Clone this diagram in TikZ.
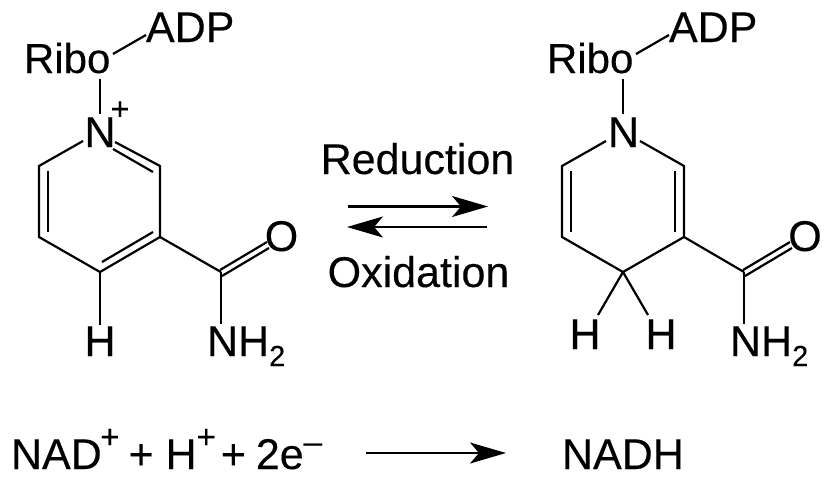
\documentclass[tikz,border=0pt]{standalone}
\usepackage{fontspec}
\setmainfont[FakeBold=0.25]{Liberation Sans}
\usetikzlibrary{arrows.meta}
\tikzset{
  atom/.style={inner sep=0pt,outer sep=0pt,font=\fontsize{43}{43}\selectfont,text height=30.5pt,text depth=0pt,anchor=base},
  word/.style={atom,anchor=base west},
  sup/.style={inner sep=0pt,outer sep=0pt,font=\fontsize{32}{32}\selectfont},
  bond/.style={line width=2.2pt,line cap=butt,line join=miter},
  rxn/.style={line width=2.2pt,-{Stealth[length=36pt,width=21pt,inset=9pt]}},
  ribo/.style={word,font=\fontsize{42}{43}\selectfont}
}
\newcommand{\subtwo}{\raisebox{-10pt}{\fontsize{29}{29}\selectfont 2}}
\newcommand{\supplus}{\raisebox{21pt}{\fontsize{33}{33}\selectfont +}}
\newcommand{\supminus}{\raisebox{16pt}{\fontsize{33}{33}\selectfont –}}
\begin{document}
\begin{tikzpicture}[x=1pt,y=-1pt]
\useasboundingbox (0,0) rectangle (826,479);
% left molecule
\node[ribo] (lribo) at (24,73) {Ribo};
\node[word] (ladp) at (146,42) {ADP};
\node[atom] (ln) at (100,147) {N};
\node[sup] (lplus) at (120,110.5) {+};
\node[atom] (lo) at (281.5,251) {O};
\node[atom] (lh) at (100,356) {H};
\node[word] (lnh) at (207,356) {NH\subtwo};
\coordinate (la) at (160,166);
\coordinate (lb) at (160,237);
\coordinate (lc) at (100,272);
\coordinate (ld) at (39,237);
\coordinate (le) at (39,166);
\coordinate (lk) at (221,272);
\coordinate (lr) at (113,54);
\coordinate (lq) at (146,35);
\coordinate (lrb) at (100,79);
\coordinate (lnt) at (100,114);
\coordinate (lna) at (115,142);
\coordinate (lnb) at (83,141);
\coordinate (lhb) at (100,325);
\coordinate (lnhb) at (221,324);
\coordinate (li1) at (113,149);
\coordinate (li2) at (153,172);
\coordinate (li3) at (48,171);
\coordinate (li4) at (48,232);
\coordinate (li5) at (102,262);
\coordinate (li6) at (153,232);
\coordinate (lo1) at (220,270);
\coordinate (lo2) at (267,242);
\coordinate (lo3) at (222,276);
\coordinate (lo4) at (269,248);
\draw[bond] (lr) -- (lq);
\draw[bond] (lrb) -- (lnt);
\draw[bond] (lnb) -- (le) -- (ld) -- (lc) -- (lb) -- (la) -- (lna);
\draw[bond] (li1) -- (li2);
\draw[bond] (li3) -- (li4);
\draw[bond] (li5) -- (li6);
\draw[bond] (lb) -- (lk);
\draw[bond] (lo1) -- (lo2);
\draw[bond] (lo3) -- (lo4);
\draw[bond] (lc) -- (lhb);
\draw[bond] (lk) -- (lnhb);
% right molecule
\node[ribo] (rribo) at (547,73) {Ribo};
\node[word] (radp) at (669,42) {ADP};
\node[atom] (rn) at (623.5,147) {N};
\node[atom] (ro) at (805,251) {O};
\node[atom] (rh1) at (585,349) {H};
\node[atom] (rh2) at (661,349) {H};
\node[word] (rnh) at (730,356) {NH\subtwo};
\coordinate (ra) at (684,166);
\coordinate (rb) at (684,237);
\coordinate (rc) at (623,272);
\coordinate (rd) at (562,237);
\coordinate (re) at (562,166);
\coordinate (rk) at (744,272);
\coordinate (rr) at (636,54);
\coordinate (rq) at (669,35);
\coordinate (rrb) at (623,79);
\coordinate (rnt) at (623,114);
\coordinate (rna) at (640,141);
\coordinate (rnb) at (606,141);
\coordinate (rh1b) at (598,315);
\coordinate (rh2b) at (648,315);
\coordinate (rnhb) at (744,324);
\coordinate (ri1) at (571,171);
\coordinate (ri2) at (571,232);
\coordinate (ri3) at (675,171);
\coordinate (ri4) at (675,232);
\coordinate (ro1) at (743,270);
\coordinate (ro2) at (790,242);
\coordinate (ro3) at (745,276);
\coordinate (ro4) at (792,248);
\draw[bond] (rr) -- (rq);
\draw[bond] (rrb) -- (rnt);
\draw[bond] (rnb) -- (re) -- (rd) -- (rc) -- (rb) -- (ra) -- (rna);
\draw[bond] (ri1) -- (ri2);
\draw[bond] (ri3) -- (ri4);
\draw[bond] (rb) -- (rk);
\draw[bond] (ro1) -- (ro2);
\draw[bond] (ro3) -- (ro4);
\draw[bond] (rc) -- (rh1b);
\draw[bond] (rc) -- (rh2b);
\draw[bond] (rk) -- (rnhb);
% reaction arrows
\node[atom] (redu) at (417.5,174) {Reduction};
\node[atom] (oxid) at (418.5,287) {Oxidation};
\coordinate (ua) at (348,206.5);
\coordinate (ub) at (488,206.5);
\coordinate (lwa) at (487,227);
\coordinate (lwb) at (347,227);
\draw[rxn] (ua) -- (ub);
\draw[rxn] (lwa) -- (lwb);
% equation
\node[word] (eqn) at (11,469) {NAD\kern-1.5pt\supplus\kern-3pt{} + H\supplus\kern-7pt{} + \kern-2pt2e\supminus};
\node[word] (nadh) at (562,469) {NADH};
\coordinate (ea) at (366,453);
\coordinate (eb) at (506,453);
\draw[rxn] (ea) -- (eb);
\end{tikzpicture}
\end{document}
